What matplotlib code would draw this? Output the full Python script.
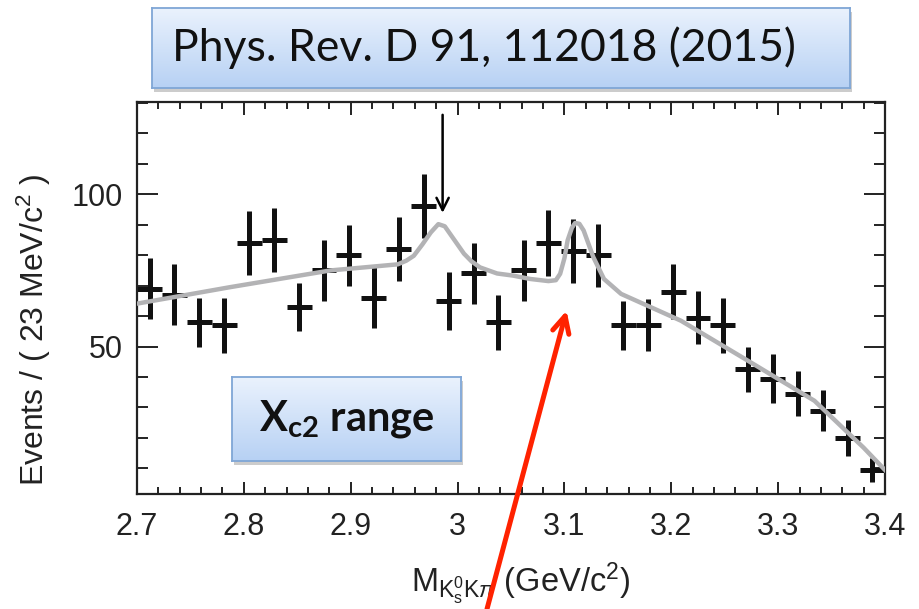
import numpy as np
import matplotlib
matplotlib.use("Agg")
import matplotlib.pyplot as plt
from matplotlib.ticker import MultipleLocator, FixedLocator
from matplotlib.patches import Rectangle

plt.rcParams['font.family'] = ['Liberation Sans', 'DejaVu Sans']
plt.rcParams['mathtext.fontset'] = 'custom'
plt.rcParams['mathtext.rm'] = 'Liberation Sans'
plt.rcParams['mathtext.it'] = 'Liberation Sans:italic'
plt.rcParams['mathtext.bf'] = 'Lato:bold'

# ---- data ----
mass = [2.7117, 2.7350, 2.7583, 2.7817, 2.8050, 2.8283, 2.8517, 2.8750, 2.8983, 2.9217,
        2.9450, 2.9683, 2.9917, 3.0150, 3.0383, 3.0617, 3.0850, 3.1083, 3.1317, 3.1550,
        3.1783, 3.2017, 3.2250, 3.2483, 3.2717, 3.2950, 3.3183, 3.3417, 3.3650, 3.3883]
events = [69, 67, 58, 57, 84, 85, 63, 75, 80, 66,
          82, 96, 65, 74, 58, 75, 84, 81.5, 80, 57,
          57, 68, 59.5, 57, 42.5, 39.5, 34.5, 29, 20, 9.5]
errors = [10, 10, 8, 9, 10.5, 10.5, 8, 10, 10, 10,
          10.5, 10.5, 9.5, 10, 9, 10, 10.7, 10.5, 10.4, 8,
          8.5, 9, 8.8, 9, 7.5, 8, 7.4, 6.8, 6, 4]
bin_half = 0.01167

fit_x = [2.700, 2.787, 2.881, 2.944, 2.952, 2.959, 2.967, 2.975, 2.982, 2.988, 2.993, 3.000,
         3.006, 3.013, 3.021, 3.037, 3.052, 3.068, 3.085, 3.092, 3.096, 3.100, 3.103, 3.107,
         3.110, 3.114, 3.118, 3.127, 3.137, 3.153, 3.209, 3.272, 3.334, 3.380, 3.401]
fit_y = [64.1, 69.5, 75.0, 77.0, 78.2, 79.8, 83.5, 87.5, 90.2, 89.5, 87.0, 83.5,
         80.5, 78.0, 76.0, 74.0, 73.3, 72.2, 71.5, 71.8, 73.9, 79.0, 84.9, 89.0,
         90.6, 90.3, 88.1, 79.4, 72.2, 67.3, 58.5, 45.3, 32.2, 16.8, 9.1]

xticks = [2.7, 2.8, 2.9, 3.0, 3.1, 3.2, 3.3, 3.4]
xticklabels = ['2.7', '2.8', '2.9', '3', '3.1', '3.2', '3.3', '3.4']
yticks = [50, 100]

fig = plt.figure(figsize=(9.2, 6.09), dpi=100)
fig.patch.set_facecolor('white')

ax = fig.add_axes([137/920, 1 - 494/609, (885-137)/920, (494-102)/609])
ax.set_xlim(2.7, 3.4)
ax.set_ylim(1.6, 130.3)

ax.errorbar(mass, events, yerr=errors, xerr=bin_half, fmt='none',
            ecolor='#111111', elinewidth=3.6, capsize=0, zorder=2)
ax.plot(fit_x, fit_y, color='#b3b3b5', lw=3.2, solid_joinstyle='round',
        solid_capstyle='round', zorder=3)

# ticks
ax.xaxis.set_major_locator(FixedLocator(xticks))
ax.set_xticklabels(xticklabels)
ax.xaxis.set_minor_locator(MultipleLocator(0.02))
ax.yaxis.set_major_locator(FixedLocator(yticks))
ax.yaxis.set_minor_locator(MultipleLocator(10))
ax.tick_params(axis='both', which='both', direction='in', top=True, right=True,
               colors='#222222', labelsize=22, width=1.4)
ax.tick_params(axis='x', which='major', length=9, pad=13)
ax.tick_params(axis='x', which='minor', length=5)
ax.tick_params(axis='y', which='major', length=15, pad=10.5)
ax.tick_params(axis='y', which='minor', length=8)
for s in ax.spines.values():
    s.set_linewidth(1.6)
    s.set_color('#222222')

ax.set_ylabel(r'Events / ( 23 MeV/c$^2$ )', fontsize=23, color='#222222')
ax.yaxis.set_label_coords((53 - 137) / 748, (494 - 330) / 392)
ax.set_xlabel(r'M$_{\mathrm{K^0_sK}\pi}$ (GeV/c$^2$)', fontsize=23.5, color='#222222')
ax.xaxis.set_label_coords((521 - 137) / 748, (494 - 561) / 392)

# black arrow
ax.annotate('', xy=(2.986, 93), xytext=(2.986, 127),
            arrowprops=dict(arrowstyle='->', lw=1.8, color='black', mutation_scale=22),
            annotation_clip=False, zorder=4)

# red arrow
ax.annotate('', xy=(3.102, 61.8), xycoords='data', xytext=(487/920, 0.0),
            textcoords='figure fraction',
            arrowprops=dict(arrowstyle='->', lw=3.6, color='#ff2200', mutation_scale=30,
                            shrinkA=0, shrinkB=0),
            annotation_clip=False, zorder=6)


def gradient_box(x0, y0, x1, y1, top_col, bot_col, edge):
    # pixel coords (top-left origin) -> figure fraction
    l, r = x0/920, x1/920
    b, t = 1 - y1/609, 1 - y0/609
    # shadow
    fig.patches.append(Rectangle((l + 2/920, b - 4/609), r - l, t - b, transform=fig.transFigure,
                                 facecolor='#9a9a9a', edgecolor='none', alpha=0.5, zorder=5))
    bax = fig.add_axes([l, b, r - l, t - b], zorder=6)
    c0 = np.array(matplotlib.colors.to_rgb(top_col))
    c1 = np.array(matplotlib.colors.to_rgb(bot_col))
    g = np.linspace(0, 1, 100)[:, None]
    img = (c0[None, None, :] * (1 - g[:, :, None]) + c1[None, None, :] * g[:, :, None])
    bax.imshow(img, aspect='auto', extent=[0, 1, 0, 1])
    bax.set_xticks([]); bax.set_yticks([])
    for s in bax.spines.values():
        s.set_color(edge); s.set_linewidth(1.3)
    return bax

b1 = gradient_box(152, 8, 850, 88, '#eaf2fd', '#b7d1f4', '#7fa6d6')
b1.text(20/698, 0.5, 'Phys. Rev. D 91, 112018 (2015)', transform=b1.transAxes,
        ha='left', va='center', fontsize=32, family='Lato', color='#111111')

b2 = gradient_box(232, 377, 461, 461, '#eaf2fd', '#b7d1f4', '#7fa6d6')
b2.text(0.5, 0.5, r'X$_{\mathbf{c2}}$ range', transform=b2.transAxes,
        ha='center', va='center', fontsize=30, family='Lato', weight='bold', color='#111111')

fig.savefig('out.png', dpi=100)
